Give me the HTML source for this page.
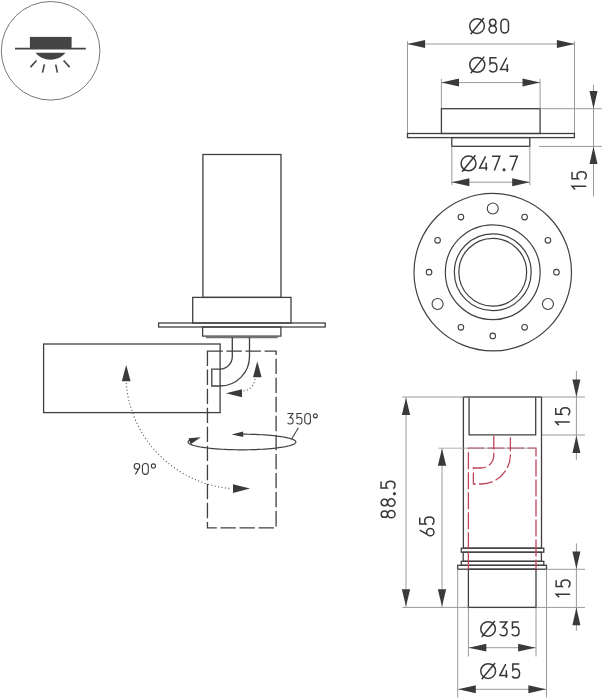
<!DOCTYPE html>
<html><head><meta charset="utf-8"><style>
html,body{margin:0;padding:0;background:#fff;}
body{width:604px;height:700px;overflow:hidden;}
svg{display:block;}
text{font-family:"Liberation Sans", sans-serif;}
</style></head><body>
<svg width="604" height="700" viewBox="0 0 604 700" shape-rendering="geometricPrecision">
<rect width="604" height="700" fill="#fff"/>
<circle cx="50.6" cy="50.8" r="49.3" fill="none" stroke="#777" stroke-width="1"/>
<rect x="29.9" y="36.9" width="41.7" height="11.5" fill="#444"/>
<line x1="15" y1="48.6" x2="85.8" y2="48.6" stroke="#444" stroke-width="1.6" />
<path d="M35.4 52.8 H65.6 A19.8 19.8 0 0 1 35.4 52.8 Z" fill="#444"/>
<line x1="36.5" y1="60.5" x2="30.5" y2="67.1" stroke="#444" stroke-width="1.6" />
<line x1="44.4" y1="64.4" x2="42.5" y2="72.6" stroke="#444" stroke-width="1.6" />
<line x1="55.7" y1="64.7" x2="57.4" y2="72.6" stroke="#444" stroke-width="1.6" />
<line x1="63.6" y1="60.5" x2="69.6" y2="67.1" stroke="#444" stroke-width="1.6" />
<rect x="202.9" y="154.5" width="78.1" height="142.9" stroke="#404040" stroke-width="1.3" fill="none" />
<rect x="192.7" y="297.4" width="98.3" height="25.6" stroke="#404040" stroke-width="1.3" fill="none" />
<rect x="158.6" y="323.0" width="166.6" height="4.0" stroke="#404040" stroke-width="1.3" fill="none" />
<rect x="202.6" y="327.0" width="78.3" height="9.1" stroke="#404040" stroke-width="1.3" fill="none" />
<line x1="205.9" y1="337.6" x2="277.7" y2="337.6" stroke="#707070" stroke-width="1.2" />
<rect x="43.6" y="344.0" width="176.5" height="68.6" stroke="#404040" stroke-width="1.3" fill="none" />
<path d="M232.3 337.6 V356.5 A12.3 12.6 0 0 1 220 369.1 H211.8 V386 H220 A29.5 29.5 0 0 0 249.5 356.5 V337.6" fill="none" stroke="#404040" stroke-width="1.3"/>
<path d="M207.45 351.2 H276.1 V527.9 H207.45 Z" fill="none" stroke="#404040" stroke-width="1.3" stroke-dasharray="15.35 3.69"/>
<path d="M255 379 A13 13 0 0 1 243 391" fill="none" stroke="#4a4a4a" stroke-width="1.05" stroke-dasharray="1.05 2.3"/>
<polygon points="257.30,361.30 261.60,377.30 253.00,377.30" fill="#3a3a3a"/>
<polygon points="226.00,393.20 242.00,389.20 242.00,397.20" fill="#3a3a3a"/>
<path d="M126.2 383 A115 115 0 0 0 231.5 488.6" fill="none" stroke="#4a4a4a" stroke-width="1.05" stroke-dasharray="1.05 2.4"/>
<polygon points="126.20,365.00 130.60,381.30 121.80,381.30" fill="#3a3a3a"/>
<polygon points="250.00,488.60 233.00,492.90 233.00,484.30" fill="#3a3a3a"/>
<g fill="none" stroke="#383838" stroke-linecap="butt" stroke-linejoin="miter">
<path transform="translate(134.14 463.54) scale(0.1082)" d="M0 26 A26 26 0 1 0 52 26 A26 26 0 1 0 0 26 Z M47.5 39 L12 100" stroke-width="9.98"/>
<path transform="translate(142.44 463.54) scale(0.1082)" d="M0 27 A27 27 0 0 1 54 27 V73 A27 27 0 0 1 0 73 Z" stroke-width="9.98"/>
<path transform="translate(151.02 463.54) scale(0.1082)" d="M3 22 A19 19 0 1 0 41 22 A19 19 0 1 0 3 22 Z" stroke-width="9.98"/>
</g>
<path d="M190.69 439.59 L189.74 440.06 L189.00 440.54 L188.48 441.02 L188.16 441.51 L188.05 442.00 L188.16 442.49 L188.48 442.98 L189.00 443.46 L189.74 443.94 L190.69 444.41 L191.84 444.87 L193.18 445.32 L194.72 445.76 L196.44 446.18 L198.34 446.58 L200.42 446.97 L202.66 447.34 L205.05 447.69 L207.59 448.01 L210.27 448.31 L213.07 448.59 L215.98 448.84 L219.00 449.06 L222.11 449.25 L225.29 449.42 L228.55 449.55 L231.85 449.66 L235.19 449.74 L238.57 449.78 L241.95 449.80 L245.33 449.78 L248.71 449.74 L252.05 449.66 L255.35 449.55 L258.61 449.42 L261.79 449.25 L264.90 449.06 L267.92 448.84 L270.83 448.59 L273.63 448.31 L276.31 448.01 L278.85 447.69 L281.24 447.34 L283.48 446.97 L285.56 446.58 L287.46 446.18 L289.18 445.76 L290.72 445.32 L292.06 444.87 L293.21 444.41 L294.16 443.94 L294.90 443.46 L295.42 442.98 L295.74 442.49 L295.85 442.00 L295.74 441.51 L295.42 441.02 L294.90 440.54 L294.16 440.06 L293.21 439.59 L292.06 439.13 L290.72 438.68 L289.18 438.24 L287.46 437.82 L285.56 437.42 L283.48 437.03 L281.24 436.66 L278.85 436.31 L276.31 435.99 L273.63 435.69 L270.83 435.41 L267.92 435.16 L264.90 434.94 L261.79 434.75 L258.61 434.58 L255.35 434.45 L252.05 434.34 L248.71 434.26 L245.33 434.22 L241.95 434.20" fill="none" stroke="#404040" stroke-width="1.2"/>
<polygon points="231.70,434.60 243.11,431.46 243.28,437.05" fill="#3a3a3a"/>
<polygon points="200.90,437.20 190.63,444.18 188.52,438.14" fill="#3a3a3a"/>
<line x1="291.8" y1="438.8" x2="298.4" y2="427.8" stroke="#404040" stroke-width="1.1" />
<g fill="none" stroke="#383838" stroke-linecap="butt" stroke-linejoin="miter">
<path transform="translate(287.43 413.54) scale(0.1052)" d="M0 0 H52 L23 39 C42 38 54 50 54 69 C54 88 42 100 27 100 C15 100 6 95 1 87" stroke-width="10.27"/>
<path transform="translate(296.33 413.54) scale(0.1052)" d="M52 0 H6 V43 C12 37 19 35 27 35 C43 35 54 48 54 67.5 C54 87 43 100 27 100 C15 100 6 95 1 87" stroke-width="10.27"/>
<path transform="translate(304.74 413.54) scale(0.1052)" d="M0 27 A27 27 0 0 1 54 27 V73 A27 27 0 0 1 0 73 Z" stroke-width="10.27"/>
<path transform="translate(313.02 413.54) scale(0.1052)" d="M3 22 A19 19 0 1 0 41 22 A19 19 0 1 0 3 22 Z" stroke-width="10.27"/>
</g>
<line x1="407.5" y1="41.2" x2="407.5" y2="133.5" stroke="#9a9a9a" stroke-width="1.0" />
<line x1="574.5" y1="41.2" x2="574.5" y2="133.5" stroke="#9a9a9a" stroke-width="1.0" />
<line x1="407.5" y1="44" x2="574.5" y2="44" stroke="#9a9a9a" stroke-width="1.0" />
<polygon points="407.50,44.00 425.10,40.00 425.10,48.00" fill="#3a3a3a"/>
<polygon points="574.50,44.00 556.90,48.00 556.90,40.00" fill="#3a3a3a"/>
<g fill="none" stroke="#383838" stroke-linecap="butt" stroke-linejoin="miter">
<path transform="translate(469.79 19.15) scale(0.1390)" d="M-1 50 A53 52.5 0 1 0 105 50 A53 52.5 0 1 0 -1 50 Z M6 109 L101 -8" stroke-width="10.79"/>
<path transform="translate(488.84 19.15) scale(0.1390)" d="M5 24 A23 23 0 1 0 51 24 A23 23 0 1 0 5 24 Z M1.5 73.5 A26.5 26.5 0 1 0 54.5 73.5 A26.5 26.5 0 1 0 1.5 73.5 Z" stroke-width="10.79"/>
<path transform="translate(500.95 19.15) scale(0.1390)" d="M0 27 A27 27 0 0 1 54 27 V73 A27 27 0 0 1 0 73 Z" stroke-width="10.79"/>
</g>
<line x1="441.4" y1="78.8" x2="441.4" y2="108.7" stroke="#9a9a9a" stroke-width="1.0" />
<line x1="540.1" y1="78.8" x2="540.1" y2="108.7" stroke="#9a9a9a" stroke-width="1.0" />
<line x1="441.4" y1="82.6" x2="540.1" y2="82.6" stroke="#9a9a9a" stroke-width="1.0" />
<polygon points="441.40,82.60 459.00,78.60 459.00,86.60" fill="#3a3a3a"/>
<polygon points="540.10,82.60 522.50,86.60 522.50,78.60" fill="#3a3a3a"/>
<g fill="none" stroke="#383838" stroke-linecap="butt" stroke-linejoin="miter">
<path transform="translate(469.89 57.75) scale(0.1420)" d="M-1 50 A53 52.5 0 1 0 105 50 A53 52.5 0 1 0 -1 50 Z M6 109 L101 -8" stroke-width="10.56"/>
<path transform="translate(489.21 57.75) scale(0.1420)" d="M52 0 H6 V43 C12 37 19 35 27 35 C43 35 54 48 54 67.5 C54 87 43 100 27 100 C15 100 6 95 1 87" stroke-width="10.56"/>
<path transform="translate(500.27 57.75) scale(0.1420)" d="M45 0 L2 82 H58 M49 45 V100" stroke-width="10.56"/>
</g>
<rect x="441.4" y="108.7" width="98.7" height="24.8" stroke="#404040" stroke-width="1.3" fill="none" />
<rect x="407.5" y="133.5" width="166.9" height="4.1" stroke="#404040" stroke-width="1.3" fill="none" />
<rect x="451.8" y="137.6" width="78.0" height="8.7" stroke="#404040" stroke-width="1.3" fill="none" />
<line x1="451.8" y1="146.3" x2="451.8" y2="185.2" stroke="#9a9a9a" stroke-width="1.0" />
<line x1="529.8" y1="146.4" x2="529.8" y2="185.2" stroke="#9a9a9a" stroke-width="1.0" />
<line x1="451.8" y1="182.2" x2="529.8" y2="182.2" stroke="#9a9a9a" stroke-width="1.0" />
<polygon points="451.80,182.20 469.40,178.20 469.40,186.20" fill="#3a3a3a"/>
<polygon points="529.80,182.20 512.20,186.20 512.20,178.20" fill="#3a3a3a"/>
<g fill="none" stroke="#383838" stroke-linecap="butt" stroke-linejoin="miter">
<path transform="translate(461.19 156.35) scale(0.1410)" d="M-1 50 A53 52.5 0 1 0 105 50 A53 52.5 0 1 0 -1 50 Z M6 109 L101 -8" stroke-width="10.64"/>
<path transform="translate(479.27 156.35) scale(0.1410)" d="M45 0 L2 82 H58 M49 45 V100" stroke-width="10.64"/>
<path transform="translate(492.05 156.35) scale(0.1410)" d="M0 0 H55 L16 100" stroke-width="10.64"/>
<circle cx="504.05" cy="169.85" r="1.15" fill="#383838"/>
<path transform="translate(509.55 156.35) scale(0.1410)" d="M0 0 H55 L16 100" stroke-width="10.64"/>
</g>
<line x1="540" y1="108.7" x2="601.8" y2="108.7" stroke="#9a9a9a" stroke-width="1.0" />
<line x1="539" y1="146.4" x2="601.8" y2="146.4" stroke="#9a9a9a" stroke-width="1.0" />
<line x1="593.5" y1="85" x2="593.5" y2="196.4" stroke="#9a9a9a" stroke-width="1.0" />
<polygon points="593.50,108.70 589.50,91.10 597.50,91.10" fill="#3a3a3a"/>
<polygon points="593.50,146.40 597.50,164.00 589.50,164.00" fill="#3a3a3a"/>
<g transform="translate(571.3 190.2) rotate(-90)" fill="none" stroke="#383838" stroke-linecap="butt" stroke-linejoin="miter">
<path transform="translate(-0.24 0.75) scale(0.1420)" d="M7 22 L30 0 V100" stroke-width="10.56"/>
<path transform="translate(10.71 0.75) scale(0.1420)" d="M52 0 H6 V43 C12 37 19 35 27 35 C43 35 54 48 54 67.5 C54 87 43 100 27 100 C15 100 6 95 1 87" stroke-width="10.56"/>
</g>
<circle cx="492.75" cy="272.2" r="78.75" fill="none" stroke="#404040" stroke-width="1.2"/>
<circle cx="492.75" cy="272.2" r="47.4" fill="none" stroke="#404040" stroke-width="1.2"/>
<circle cx="492.75" cy="272.2" r="38.4" fill="none" stroke="#404040" stroke-width="1.2"/>
<circle cx="492.75" cy="272.2" r="33.9" fill="none" stroke="#404040" stroke-width="1.2"/>
<circle cx="492.75" cy="208.50" r="5.5" fill="none" stroke="#404040" stroke-width="1.1"/>
<circle cx="524.60" cy="217.03" r="2.8" fill="none" stroke="#404040" stroke-width="1.1"/>
<circle cx="547.92" cy="240.35" r="2.8" fill="none" stroke="#404040" stroke-width="1.1"/>
<circle cx="556.45" cy="272.20" r="2.8" fill="none" stroke="#404040" stroke-width="1.1"/>
<circle cx="547.92" cy="304.05" r="5.5" fill="none" stroke="#404040" stroke-width="1.1"/>
<circle cx="524.60" cy="327.37" r="2.8" fill="none" stroke="#404040" stroke-width="1.1"/>
<circle cx="492.75" cy="335.90" r="2.8" fill="none" stroke="#404040" stroke-width="1.1"/>
<circle cx="460.90" cy="327.37" r="2.8" fill="none" stroke="#404040" stroke-width="1.1"/>
<circle cx="437.58" cy="304.05" r="5.5" fill="none" stroke="#404040" stroke-width="1.1"/>
<circle cx="429.05" cy="272.20" r="2.8" fill="none" stroke="#404040" stroke-width="1.1"/>
<circle cx="437.58" cy="240.35" r="2.8" fill="none" stroke="#404040" stroke-width="1.1"/>
<circle cx="460.90" cy="217.03" r="2.8" fill="none" stroke="#404040" stroke-width="1.1"/>
<line x1="402.2" y1="397" x2="585" y2="397" stroke="#9a9a9a" stroke-width="1.0" />
<line x1="402.3" y1="607.4" x2="585" y2="607.4" stroke="#9a9a9a" stroke-width="1.0" />
<line x1="541" y1="435" x2="585" y2="435" stroke="#9a9a9a" stroke-width="1.0" />
<line x1="546.5" y1="569.3" x2="585" y2="569.3" stroke="#9a9a9a" stroke-width="1.0" />
<path d="M463.4 397 V548.2 H541.5 V397 M469.1 397 V434.9 H535.7 V397" fill="none" stroke="#404040" stroke-width="1.3"/>
<line x1="463.4" y1="397" x2="541.5" y2="397" stroke="#666" stroke-width="1.3" />
<rect x="461.3" y="548.2" width="82.5" height="4.0" stroke="#404040" stroke-width="1.3" fill="none" />
<rect x="463.2" y="552.2" width="78.2" height="9.1" stroke="#404040" stroke-width="1.3" fill="none" />
<rect x="461.3" y="561.3" width="82.5" height="4.0" stroke="#404040" stroke-width="1.3" fill="none" />
<rect x="457.7" y="565.3" width="88.8" height="3.9" stroke="#404040" stroke-width="1.3" fill="none" />
<rect x="468.4" y="569.2" width="67.6" height="38.2" stroke="#404040" stroke-width="1.3" fill="none" />
<path d="M468.4 569.2 V448.2 H536 V569.2" fill="none" stroke="#c0445a" stroke-width="1.3" stroke-dasharray="17 3"/>
<line x1="438.3" y1="448.2" x2="536" y2="448.2" stroke="#9a9a9a" stroke-width="1.0" stroke-opacity="0.75"/>
<path d="M493.8 435.6 V455.3 A12.7 12.7 0 0 1 481.1 468 H473.4 V484 H481.1 A29.3 29.3 0 0 0 510.4 455.3 V435.6" fill="none" stroke="#c0445a" stroke-width="1.3" stroke-dasharray="14 3.2"/>
<line x1="406" y1="397" x2="406" y2="607.4" stroke="#9a9a9a" stroke-width="1.0" />
<polygon points="406.00,397.90 410.20,414.90 401.80,414.90" fill="#3a3a3a"/>
<polygon points="406.00,606.20 401.80,589.20 410.20,589.20" fill="#3a3a3a"/>
<line x1="442" y1="448.2" x2="442" y2="607.4" stroke="#9a9a9a" stroke-width="1.0" />
<polygon points="442.00,448.80 446.20,465.80 437.80,465.80" fill="#3a3a3a"/>
<polygon points="442.00,606.20 437.80,589.20 446.20,589.20" fill="#3a3a3a"/>
<g transform="translate(380.3 518.6) rotate(-90)" fill="none" stroke="#383838" stroke-linecap="butt" stroke-linejoin="miter">
<path transform="translate(0.54 0.75) scale(0.1400)" d="M5 24 A23 23 0 1 0 51 24 A23 23 0 1 0 5 24 Z M1.5 73.5 A26.5 26.5 0 1 0 54.5 73.5 A26.5 26.5 0 1 0 1.5 73.5 Z" stroke-width="10.71"/>
<path transform="translate(12.14 0.75) scale(0.1400)" d="M5 24 A23 23 0 1 0 51 24 A23 23 0 1 0 5 24 Z M1.5 73.5 A26.5 26.5 0 1 0 54.5 73.5 A26.5 26.5 0 1 0 1.5 73.5 Z" stroke-width="10.71"/>
<circle cx="24.85" cy="14.15" r="1.15" fill="#383838"/>
<path transform="translate(29.81 0.75) scale(0.1400)" d="M52 0 H6 V43 C12 37 19 35 27 35 C43 35 54 48 54 67.5 C54 87 43 100 27 100 C15 100 6 95 1 87" stroke-width="10.71"/>
</g>
<g transform="translate(419 536.6) rotate(-90)" fill="none" stroke="#383838" stroke-linecap="butt" stroke-linejoin="miter">
<path transform="translate(0.75 0.75) scale(0.1420)" d="M40 0 L4.5 61 M0 74 A26 26 0 1 0 52 74 A26 26 0 1 0 0 74 Z" stroke-width="10.56"/>
<path transform="translate(11.81 0.75) scale(0.1420)" d="M52 0 H6 V43 C12 37 19 35 27 35 C43 35 54 48 54 67.5 C54 87 43 100 27 100 C15 100 6 95 1 87" stroke-width="10.56"/>
</g>
<line x1="576.4" y1="370.7" x2="576.4" y2="460" stroke="#9a9a9a" stroke-width="1.0" />
<polygon points="576.40,397.00 572.40,379.40 580.40,379.40" fill="#3a3a3a"/>
<polygon points="576.40,435.40 580.40,453.00 572.40,453.00" fill="#3a3a3a"/>
<g transform="translate(555 425.9) rotate(-90)" fill="none" stroke="#383838" stroke-linecap="butt" stroke-linejoin="miter">
<path transform="translate(-0.23 0.75) scale(0.1400)" d="M7 22 L30 0 V100" stroke-width="10.71"/>
<path transform="translate(10.71 0.75) scale(0.1400)" d="M52 0 H6 V43 C12 37 19 35 27 35 C43 35 54 48 54 67.5 C54 87 43 100 27 100 C15 100 6 95 1 87" stroke-width="10.71"/>
</g>
<line x1="576.4" y1="543.4" x2="576.4" y2="630.6" stroke="#9a9a9a" stroke-width="1.0" />
<polygon points="576.40,569.00 572.40,551.40 580.40,551.40" fill="#3a3a3a"/>
<polygon points="576.40,607.60 580.40,625.20 572.40,625.20" fill="#3a3a3a"/>
<g transform="translate(555.4 598.1) rotate(-90)" fill="none" stroke="#383838" stroke-linecap="butt" stroke-linejoin="miter">
<path transform="translate(-0.22 0.75) scale(0.1390)" d="M7 22 L30 0 V100" stroke-width="10.79"/>
<path transform="translate(10.71 0.75) scale(0.1390)" d="M52 0 H6 V43 C12 37 19 35 27 35 C43 35 54 48 54 67.5 C54 87 43 100 27 100 C15 100 6 95 1 87" stroke-width="10.79"/>
</g>
<line x1="468.4" y1="607.4" x2="468.4" y2="656.5" stroke="#9a9a9a" stroke-width="1.0" />
<line x1="536" y1="607.4" x2="536" y2="656.5" stroke="#9a9a9a" stroke-width="1.0" />
<line x1="468.8" y1="647.7" x2="535.6" y2="647.7" stroke="#9a9a9a" stroke-width="1.0" />
<polygon points="468.80,647.70 486.30,643.80 486.30,651.60" fill="#3a3a3a"/>
<polygon points="535.60,647.70 518.10,651.60 518.10,643.80" fill="#3a3a3a"/>
<g fill="none" stroke="#383838" stroke-linecap="butt" stroke-linejoin="miter">
<path transform="translate(480.89 622.05) scale(0.1380)" d="M-1 50 A53 52.5 0 1 0 105 50 A53 52.5 0 1 0 -1 50 Z M6 109 L101 -8" stroke-width="10.87"/>
<path transform="translate(499.61 622.05) scale(0.1380)" d="M0 0 H52 L23 39 C42 38 54 50 54 69 C54 88 42 100 27 100 C15 100 6 95 1 87" stroke-width="10.87"/>
<path transform="translate(511.61 622.05) scale(0.1380)" d="M52 0 H6 V43 C12 37 19 35 27 35 C43 35 54 48 54 67.5 C54 87 43 100 27 100 C15 100 6 95 1 87" stroke-width="10.87"/>
</g>
<line x1="457.7" y1="569.2" x2="457.7" y2="697.5" stroke="#9a9a9a" stroke-width="1.0" />
<line x1="546.5" y1="569.2" x2="546.5" y2="697.5" stroke="#9a9a9a" stroke-width="1.0" />
<line x1="458.2" y1="689.3" x2="546" y2="689.3" stroke="#9a9a9a" stroke-width="1.0" />
<polygon points="458.20,689.30 475.80,685.30 475.80,693.30" fill="#3a3a3a"/>
<polygon points="546.00,689.30 528.40,693.30 528.40,685.30" fill="#3a3a3a"/>
<g fill="none" stroke="#383838" stroke-linecap="butt" stroke-linejoin="miter">
<path transform="translate(480.89 664.05) scale(0.1400)" d="M-1 50 A53 52.5 0 1 0 105 50 A53 52.5 0 1 0 -1 50 Z M6 109 L101 -8" stroke-width="10.71"/>
<path transform="translate(499.47 664.05) scale(0.1400)" d="M45 0 L2 82 H58 M49 45 V100" stroke-width="10.71"/>
<path transform="translate(512.01 664.05) scale(0.1400)" d="M52 0 H6 V43 C12 37 19 35 27 35 C43 35 54 48 54 67.5 C54 87 43 100 27 100 C15 100 6 95 1 87" stroke-width="10.71"/>
</g>
</svg>
</body></html>
